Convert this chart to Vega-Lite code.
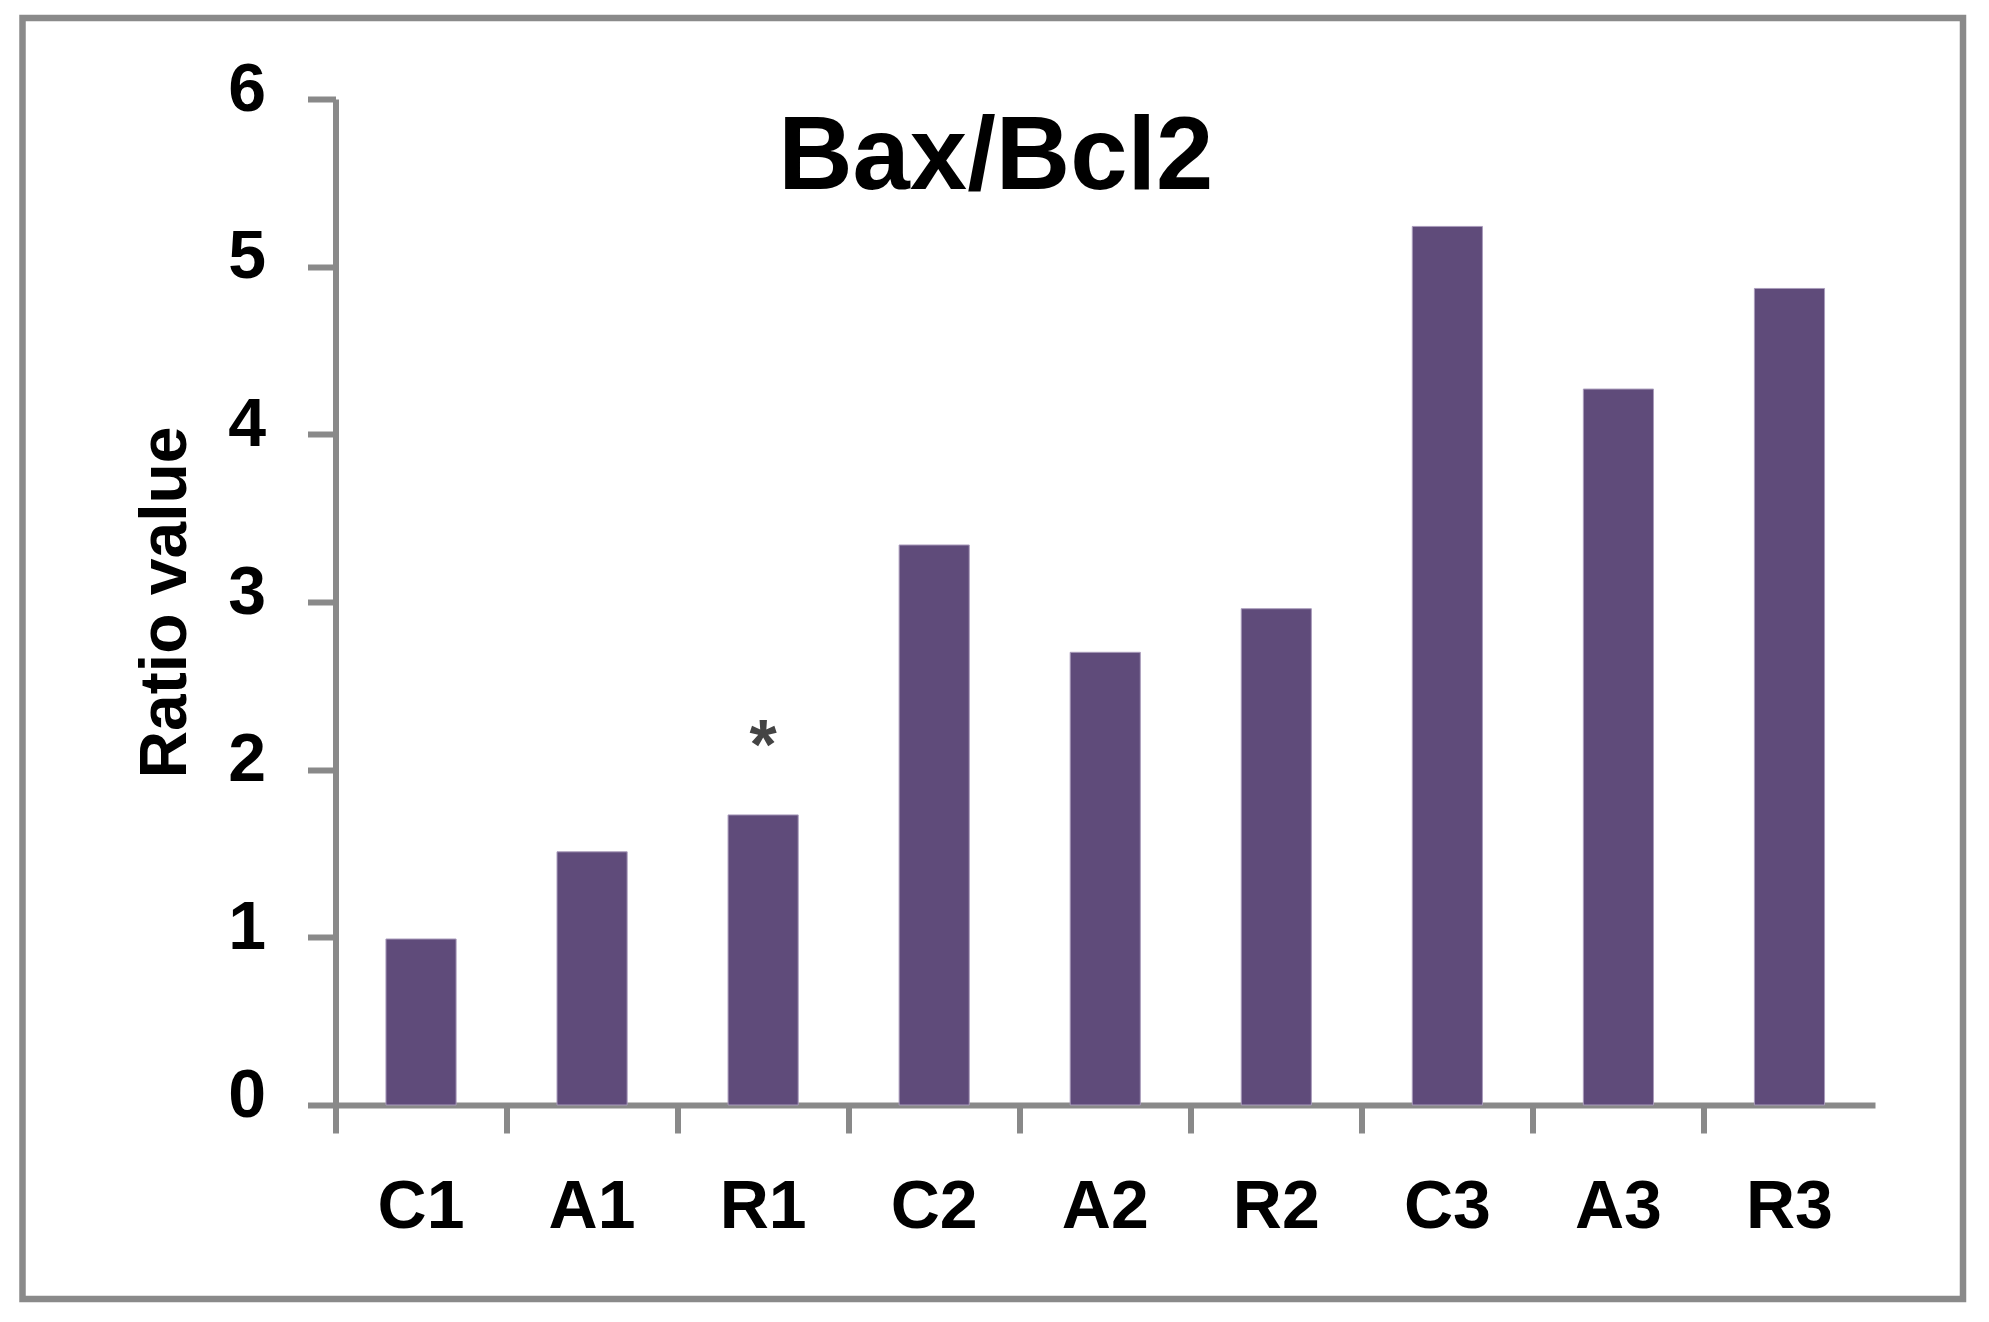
{
  "$schema": "https://vega.github.io/schema/vega-lite/v6.json",
  "width": 1940.5,
  "height": 1281,
  "autosize": {"type": "none"},
  "padding": {"left": 22.5, "top": 18, "right": 26, "bottom": 23},
  "background": "white",
  "config": {
    "view": {"stroke": "#8a8a8a", "strokeWidth": 6.5, "fill": "white"},
    "font": "Liberation Sans"
  },
  "title": {
    "text": "Bax/Bcl2",
    "font": "Liberation Sans",
    "fontSize": 103,
    "fontWeight": "bold",
    "color": "black",
    "anchor": "middle",
    "frame": "group",
    "baseline": "alphabetic",
    "offset": -274,
    "dx": 3
  },
  "datasets": {
    "bars": [
      {"group": "C1", "ratio": 0.99},
      {"group": "A1", "ratio": 1.51},
      {"group": "R1", "ratio": 1.73},
      {"group": "C2", "ratio": 3.34},
      {"group": "A2", "ratio": 2.70},
      {"group": "R2", "ratio": 2.96},
      {"group": "C3", "ratio": 5.24},
      {"group": "A3", "ratio": 4.27},
      {"group": "R3", "ratio": 4.87}
    ],
    "notes": [
      {"group": "R1", "ratio": 1.73, "note": "*"}
    ]
  },
  "layer": [
    {
      "data": {"name": "bars"},
      "mark": {"type": "bar", "color": "#5f4b7a", "width": {"band": 0.41}, "stroke": "#a99bbb", "strokeWidth": 1},
      "encoding": {
        "x": {
          "field": "group",
          "type": "nominal",
          "sort": null,
          "scale": {"range": [313, 1852.5], "paddingInner": 0, "paddingOuter": 0},
          "axis": {
            "title": null,
            "orient": "bottom",
            "offset": -194,
            "bandPosition": 0,
            "domainColor": "#898989",
            "domainWidth": 6,
            "tickColor": "#898989",
            "tickWidth": 6,
            "tickSize": 28,
            "labelAngle": 0,
            "labelFont": "Liberation Sans",
            "labelFontWeight": "bold",
            "labelFontSize": 68,
            "labelColor": "black",
            "labelPadding": 40,
            "labelBaseline": "top",
            "grid": false
          }
        },
        "y": {
          "field": "ratio",
          "type": "quantitative",
          "scale": {"domain": [0, 6], "range": [1087, 81], "nice": false},
          "axis": {
            "title": "Ratio value",
            "orient": "left",
            "offset": -313,
            "values": [0, 1, 2, 3, 4, 5, 6],
            "format": "d",
            "domainColor": "#898989",
            "domainWidth": 6,
            "tickColor": "#898989",
            "tickWidth": 6,
            "tickSize": 28,
            "labelFont": "Liberation Sans",
            "labelFontWeight": "bold",
            "labelFontSize": 68,
            "labelColor": "black",
            "labelPadding": 42,
            "labelOffset": -9,
            "titleFont": "Liberation Sans",
            "titleFontWeight": "bold",
            "titleFontSize": 66,
            "titleColor": "black",
            "titleAngle": -90,
            "titleAlign": "center",
            "titleBaseline": "alphabetic",
            "titleX": -150,
            "titleY": 584,
            "grid": false
          }
        }
      }
    },
    {
      "data": {"name": "notes"},
      "mark": {"type": "text", "font": "Liberation Sans", "fontSize": 70, "fontWeight": "bold", "color": "#444444", "baseline": "alphabetic", "align": "center", "dy": -46},
      "encoding": {
        "x": {"field": "group", "type": "nominal", "sort": null},
        "y": {"field": "ratio", "type": "quantitative"},
        "text": {"field": "note"}
      }
    },
    {
      "mark": {"type": "rule", "color": "#898989", "strokeWidth": 6, "y2Offset": 28, "strokeCap": "butt"},
      "encoding": {
        "x": {"datum": "R3", "type": "nominal", "bandPosition": 1},
        "y": {"datum": 0, "type": "quantitative"},
        "y2": {"datum": 0}
      }
    }
  ]
}
